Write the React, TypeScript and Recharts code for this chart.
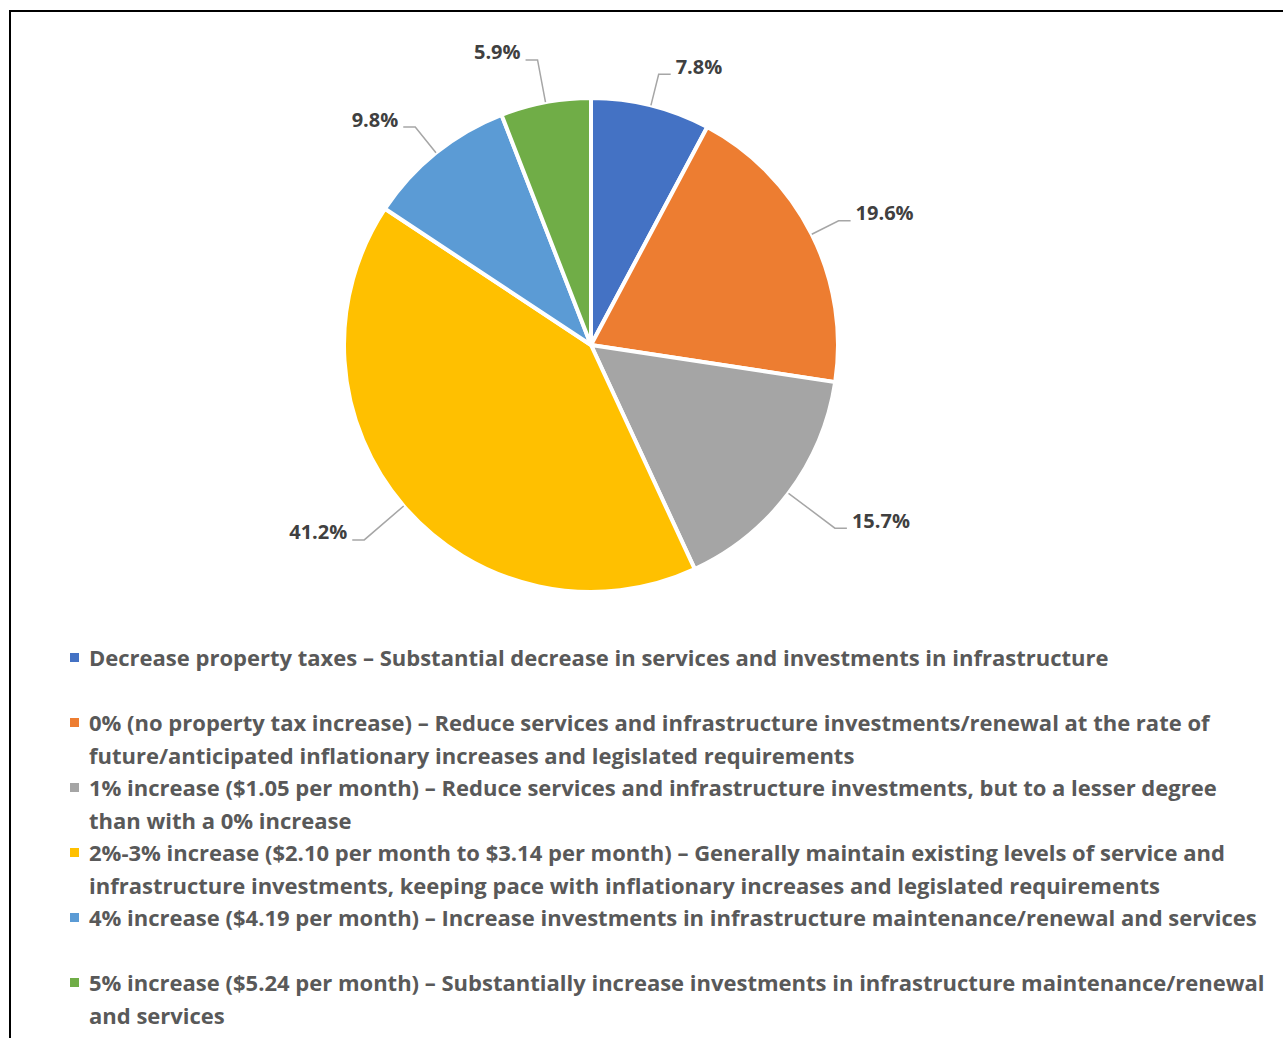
import { PieChart, Pie, Cell } from 'recharts';

// survey answers, in legend order
const OPTIONS = [
  'Decrease property taxes – Substantial decrease in services and investments in infrastructure',
  '0% (no property tax increase) – Reduce services and infrastructure investments/renewal at the rate of\nfuture/anticipated inflationary increases and legislated requirements',
  '1% increase ($1.05 per month) – Reduce services and infrastructure investments, but to a lesser degree\nthan with a 0% increase',
  '2%-3% increase ($2.10 per month to $3.14 per month) – Generally maintain existing levels of service and\ninfrastructure investments, keeping pace with inflationary increases and legislated requirements',
  '4% increase ($4.19 per month) – Increase investments in infrastructure maintenance/renewal and services',
  '5% increase ($5.24 per month) – Substantially increase investments in infrastructure maintenance/renewal\nand services',
];

const SHARES = [7.8, 19.6, 15.7, 41.2, 9.8, 5.9];

const COLORS = ['#4472C4', '#ED7D31', '#A5A5A5', '#FFC000', '#5B9BD5', '#70AD47'];

const data = OPTIONS.map((name, i) => ({ name, value: SHARES[i] }));

// extra radius for each leader-line knee
const LABEL_REACH = [32, 30, 58, 52, 33, 43];

const RAD = Math.PI / 180;
const FONT = '"Open Sans", sans-serif';

const renderLabel = (props: any) => {
  const { cx, cy, midAngle, outerRadius, value, index } = props;
  const a = midAngle * RAD;
  const cos = Math.cos(-a);
  const sin = Math.sin(-a);
  const x0 = cx + outerRadius * cos;
  const y0 = cy + outerRadius * sin;
  const r1 = outerRadius + LABEL_REACH[index];
  const x1 = cx + r1 * cos;
  const y1 = cy + r1 * sin;
  const right = cos >= 0;
  const x2 = x1 + (right ? 12 : -12);
  return (
    <g>
      <polyline
        points={`${x0},${y0} ${x1},${y1} ${x2},${y1}`}
        fill="none"
        stroke="#A6A6A6"
        strokeWidth={1.5}
      />
      <text
        x={x2 + (right ? 5 : -5)}
        y={y1 - 8}
        textAnchor={right ? 'start' : 'end'}
        dominantBaseline="central"
        fill="#404040"
        fontSize={20}
        fontWeight={700}
        fontFamily={FONT}
      >
        {`${value.toFixed(1)}%`}
      </text>
    </g>
  );
};

export default function App() {
  return (
    <div
      style={{
        position: 'absolute',
        left: 0,
        top: 0,
        width: 1283,
        height: 1038,
        overflow: 'hidden',
        background: '#fff',
        fontFamily: FONT,
      }}
    >
      <div
        style={{
          position: 'absolute',
          left: 9,
          top: 10,
          width: 1400,
          height: 1200,
          borderLeft: '2px solid #000',
          borderTop: '2px solid #000',
        }}
      />
      <div style={{ position: 'absolute', left: 0, top: 0 }}>
        <PieChart width={1283} height={640} margin={{ top: 0, right: 0, bottom: 0, left: 0 }}>
          <Pie
            data={data}
            dataKey="value"
            nameKey="name"
            cx={591}
            cy={345}
            outerRadius={247}
            startAngle={90}
            endAngle={-270}
            stroke="#fff"
            strokeWidth={4}
            label={renderLabel}
            labelLine={false}
            isAnimationActive={false}
          >
            {data.map((d, i) => (
              <Cell key={d.name} fill={COLORS[i]} />
            ))}
          </Pie>
        </PieChart>
      </div>
      <div style={{ position: 'absolute', left: 68, top: 641 }}>
        {OPTIONS.map((label, i) => (
          <div key={i} style={{ position: 'relative', height: 65 }}>
            <span
              style={{
                position: 'absolute',
                left: 2,
                top: 12,
                width: 9,
                height: 9,
                background: COLORS[i],
              }}
            />
            <div
              style={{
                position: 'absolute',
                left: 21,
                top: 0,
                whiteSpace: 'pre',
                lineHeight: '32.5px',
                fontSize: 22,
                fontWeight: 700,
                color: '#595959',
              }}
            >
              {label}
            </div>
          </div>
        ))}
      </div>
    </div>
  );
}
